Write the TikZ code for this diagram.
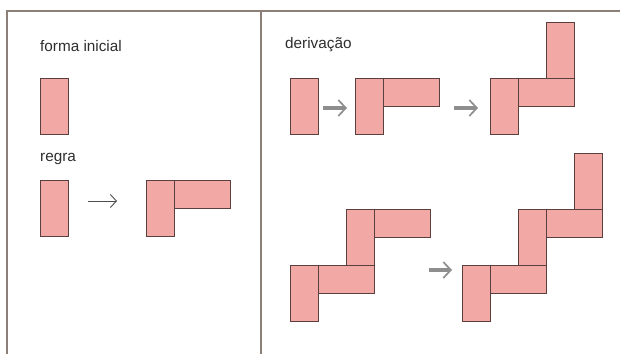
\documentclass[tikz,border=0pt]{standalone}
\usepackage{fontspec}
\setmainfont{Liberation Sans}
\usetikzlibrary{arrows.meta}
\definecolor{tilefill}{HTML}{F2A9A6}
\definecolor{tileedge}{HTML}{5A3F3F}
\definecolor{framecol}{HTML}{8C7F78}
\definecolor{txtcol}{HTML}{2E2E2E}
\definecolor{arrgray}{HTML}{8E8E8E}
\tikzset{
  tile/.style={draw=tileedge, fill=tilefill, line width=0.9pt, inner sep=0pt, outer sep=0pt, anchor=north west},
  vtile/.style={tile, minimum width=28pt, minimum height=56pt},
  htile/.style={tile, minimum width=56pt, minimum height=28pt},
  frameline/.style={draw=framecol, line width=1.8pt},
  lbl/.style={text=txtcol, font=\fontsize{15.3}{18}\selectfont, inner sep=0pt, anchor=base west},
  thinarrow/.style={draw=txtcol!85, line width=0.8pt, -{Straight Barb[length=6pt, width=13pt, line width=0.9pt]}},
  grayarrow/.style={draw=arrgray, line width=4pt, -{Straight Barb[length=7.5pt, width=16pt, line width=1.7pt]}},
}
\begin{document}
\begin{tikzpicture}[x=1pt, y=-1pt]
\useasboundingbox (0,0) rectangle (620,354);

% panel frame
\draw[frameline] (7,354) -- (7,11) -- (620,11);
\draw[frameline] (261,11) -- (261,354);

% left panel: initial shape and rule
\node[lbl] (tInit) at (40,51) {forma inicial};
\node[vtile] (init) at (40,78) {};
\node[lbl] (tRule) at (40,161) {regra};
\node[vtile] (ruleA) at (40,180) {};
\node[vtile] (ruleB1) at (146,180) {};
\node[htile] (ruleB2) at (174,180) {};
\draw[thinarrow] ([xshift=20pt,yshift=7pt]ruleA.east) -- ([xshift=-29pt,yshift=7pt]ruleB1.west);

% right panel: derivation
\node[lbl] (tDer) at (285,48) {derivação};

\node[vtile] (dA) at (290,78) {};

\node[vtile] (dB1) at (355,78) {};
\node[htile] (dB2) at (383,78) {};

\node[vtile] (dC1) at (490,78) {};
\node[htile] (dC2) at (518,78) {};
\node[vtile] (dC3) at (546,22) {};

\node[vtile] (dD1) at (290,265) {};
\node[htile] (dD2) at (318,265) {};
\node[vtile] (dD3) at (346,209) {};
\node[htile] (dD4) at (374,209) {};

\node[vtile] (dE1) at (462,265) {};
\node[htile] (dE2) at (490,265) {};
\node[vtile] (dE3) at (518,209) {};
\node[htile] (dE4) at (546,209) {};
\node[vtile] (dE5) at (574,153) {};

\draw[grayarrow] ([xshift=5pt,yshift=-2pt]dA.east) -- ([xshift=-8pt,yshift=-2pt]dB1.west);
\draw[grayarrow] ([xshift=15pt,yshift=-16pt]dB2.east) -- ([xshift=-12pt,yshift=-2pt]dC1.west);
\draw[grayarrow] ([xshift=55pt,yshift=9pt]dD2.east) -- ([xshift=-10pt,yshift=23pt]dE1.west);
\end{tikzpicture}
\end{document}
